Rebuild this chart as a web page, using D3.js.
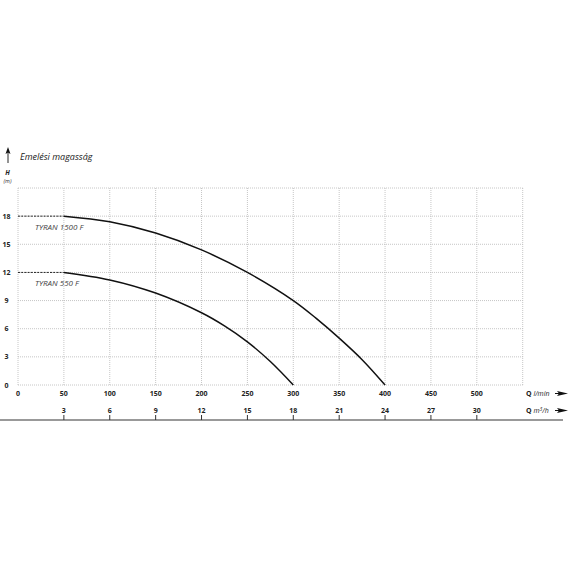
<!DOCTYPE html>
<html>
<head>
<meta charset="utf-8">
<script src="https://cdn.jsdelivr.net/npm/d3@7"></script>
<style>
  body { margin: 0; background: #fff; }
  text { font-family: "Open Sans", "DejaVu Sans", sans-serif; }
</style>
</head>
<body>
<script>
"use strict";
(function(){
  // flow in l/min, head in m
  const flowTicks = [0, 50, 100, 150, 200, 250, 300, 350, 400, 450, 500]
  const m3hTicks = [3, 6, 9, 12, 15, 18, 21, 24, 27, 30]
  const headTicks = [0, 3, 6, 9, 12, 15, 18]

  const tyran1500Q = [50, 100, 150, 200, 250, 300, 325, 350, 375, 400]
  const tyran1500H = [18, 17.4, 16.2, 14.4, 12.0, 9.0, 7.1, 5.0, 2.7, 0]
  const tyran550Q = [50, 100, 150, 200, 225, 250, 275, 300]
  const tyran550H = [12, 11.2, 9.8, 7.7, 6.3, 4.6, 2.5, 0]

  const m = { width: 570, height: 570 }
  const svg = d3.select("body").append("svg")
      .attr("width", m.width)
      .attr("height", m.height)

  const x = d3.scaleLinear().domain([0, 550]).range([18, 522.7])
  const y = d3.scaleLinear().domain([0, 21]).range([385, 188])

  // dotted grid
  const grid = svg.append("g")
      .attr("stroke", "#b8b8b8")
      .attr("stroke-width", 0.8)
      .attr("stroke-dasharray", "1,1")
  grid.selectAll(".vg")
      .data(d3.range(0, 551, 50))
      .enter().append("line")
        .attr("x1", d => x(d)).attr("x2", d => x(d))
        .attr("y1", y(0)).attr("y2", y(21))
  grid.selectAll(".hg")
      .data(d3.range(0, 22, 3))
      .enter().append("line")
        .attr("x1", x(0)).attr("x2", x(550))
        .attr("y1", d => y(d)).attr("y2", d => y(d))

  // y labels
  svg.selectAll(".ylab")
      .data(headTicks)
      .enter().append("text")
        .attr("x", 6.5)
        .attr("y", d => y(d) + 2.5)
        .attr("text-anchor", "middle")
        .attr("font-size", "7px")
        .attr("font-weight", "bold")
        .attr("fill", "#222")
        .text(d => d)

  // l/min labels
  svg.selectAll(".xlab")
      .data(flowTicks)
      .enter().append("text")
        .attr("x", d => x(d))
        .attr("y", 396)
        .attr("text-anchor", "middle")
        .attr("font-size", "7px")
        .attr("font-weight", "bold")
        .attr("fill", "#222")
        .text(d => d)

  // m3/h axis (1 m3/h = 1000/60 l/min)
  const xm = d3.scaleLinear().domain([0, 33]).range([x(0), x(550)])
  const bottom = svg.append("g").attr("transform", "translate(0,420)")
  bottom.append("line")
      .attr("x1", 0).attr("x2", 563)
      .attr("stroke", "#777").attr("stroke-width", 1.6)
  bottom.selectAll(".mt")
      .data(m3hTicks)
      .enter().append("line")
        .attr("x1", d => xm(d)).attr("x2", d => xm(d))
        .attr("y1", -5).attr("y2", 0)
        .attr("stroke", "#333").attr("stroke-width", 1)
  bottom.selectAll(".ml")
      .data(m3hTicks)
      .enter().append("text")
        .attr("x", d => xm(d))
        .attr("y", -7)
        .attr("text-anchor", "middle")
        .attr("font-size", "7px")
        .attr("font-weight", "bold")
        .attr("fill", "#222")
        .text(d => d)

  // axis names
  function axisName(yy, unit, sup) {
    const t = svg.append("text")
        .attr("x", 526).attr("y", yy)
        .attr("font-size", "7px").attr("fill", "#222")
    t.append("tspan").attr("font-weight", "bold").text("Q ")
    t.append("tspan").attr("font-style", "italic").text(unit)
    if (sup) {
      t.append("tspan").attr("font-style", "italic").attr("font-size", "5px").attr("dy", -2.5).text(sup)
      t.append("tspan").attr("font-style", "italic").attr("dy", 2.5).text("/h")
    }
    svg.append("line")
        .attr("x1", 555).attr("x2", 563).attr("y1", yy - 2.5).attr("y2", yy - 2.5)
        .attr("stroke", "#111").attr("stroke-width", 1)
    svg.append("path")
        .attr("d", `M557,${yy - 5}L568,${yy - 2.5}L557,${yy}L559,${yy - 2.5}Z`)
        .attr("fill", "#111")
  }
  axisName(396, "l/min")
  axisName(413, "m", "3")

  // vertical title
  svg.append("line")
      .attr("x1", 8).attr("x2", 8).attr("y1", 163).attr("y2", 152)
      .attr("stroke", "#111").attr("stroke-width", 0.9)
  svg.append("path")
      .attr("d", "M5.5,154L8,147L10.5,154L8,152.5Z")
      .attr("fill", "#111")
  svg.append("text")
      .attr("x", 20).attr("y", 160)
      .attr("font-size", "9px").attr("font-style", "italic").attr("fill", "#222")
      .text("Emelési magasság")
  svg.append("text")
      .attr("x", 7.5).attr("y", 175)
      .attr("text-anchor", "middle")
      .attr("font-size", "6.5px").attr("font-style", "italic").attr("font-weight", "bold").attr("fill", "#222")
      .text("H")
  svg.append("text")
      .attr("x", 7.5).attr("y", 183)
      .attr("text-anchor", "middle")
      .attr("font-size", "5.5px").attr("font-style", "italic").attr("fill", "#333")
      .text("(m)")

  // curves
  const line = d3.line()
      .x(d => x(d[0]))
      .y(d => y(d[1]))
      .curve(d3.curveCatmullRom.alpha(0.5))

  const series = [
    { name: "TYRAN 1500 F", q: tyran1500Q, h: tyran1500H },
    { name: "TYRAN 550 F", q: tyran550Q, h: tyran550H }
  ]
  series.forEach(s => {
    const pts = s.q.map((q, i) => [q, s.h[i]])
    svg.append("path")
        .datum([[0, s.h[0]], [s.q[0], s.h[0]]])
        .attr("d", line)
        .attr("fill", "none")
        .attr("stroke", "#111")
        .attr("stroke-width", 0.9)
        .attr("stroke-dasharray", "2,1.2")
    svg.append("path")
        .datum(pts)
        .attr("d", line)
        .attr("fill", "none")
        .attr("stroke", "#111")
        .attr("stroke-width", 1.5)
    svg.append("text")
        .attr("x", 35)
        .attr("y", y(s.h[0]) + 14)
        .attr("font-size", "8px")
        .attr("font-style", "italic")
        .attr("fill", "#444")
        .text(s.name)
  })
})();
</script>
</body>
</html>
